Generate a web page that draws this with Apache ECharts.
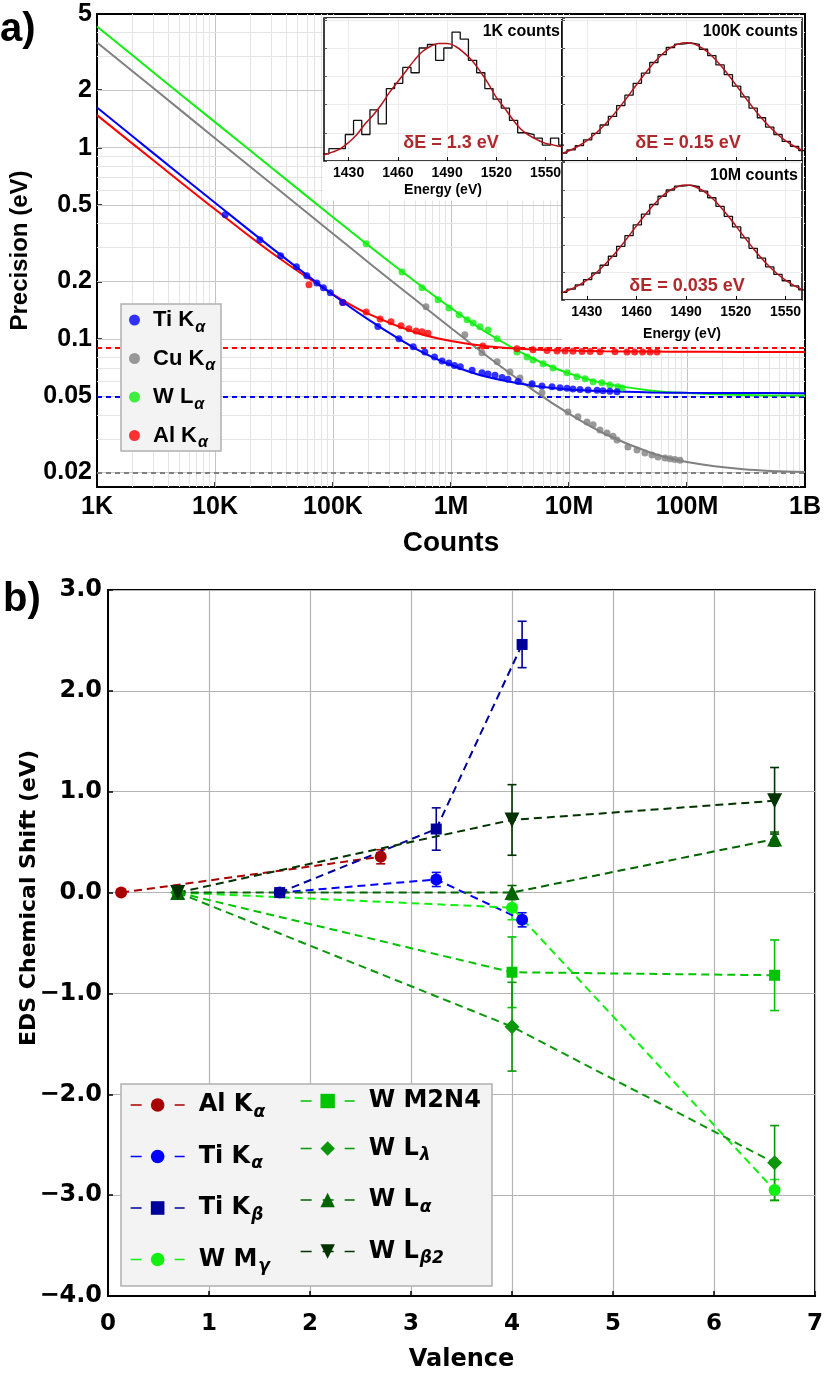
<!DOCTYPE html>
<html><head><meta charset="utf-8">
<script src="https://cdn.jsdelivr.net/npm/echarts@6/dist/echarts.min.js"></script>
<style>html,body{margin:0;padding:0;background:#fff}#c{width:830px;height:1377px}</style>
</head><body><div id="c"></div>
<script>
// ================= Panel a data =================
const countTicks = [1e3, 1e4, 1e5, 1e6, 1e7, 1e8, 1e9];
const countTickLabels = ['1K', '10K', '100K', '1M', '10M', '100M', '1B'];
const precTicks = [0.02, 0.05, 0.1, 0.2, 0.5, 1, 2, 5];
const precTickLabels = ['0.02', '0.05', '0.1', '0.2', '0.5', '1', '2', '5'];

const fitCounts = [1e3, 3e3, 1e4, 3e4, 1e5, 2e5, 5e5, 1e6, 2e6, 5e6, 1e7, 2e7, 5e7, 1e8, 3e8, 1e9];
const tiFit = [1.62, 0.936, 0.515, 0.300, 0.170, 0.126, 0.089, 0.073, 0.0633, 0.0568, 0.0544, 0.0533, 0.0525, 0.0522, 0.0521, 0.052];
const alFit = [1.48, 0.859, 0.476, 0.283, 0.171, 0.135, 0.108, 0.0974, 0.0916, 0.088, 0.0868, 0.0861, 0.0858, 0.0856, 0.0855, 0.0855];
const wFit  = [4.30, 2.48, 1.36, 0.787, 0.433, 0.308, 0.199, 0.145, 0.108, 0.0787, 0.066, 0.0585, 0.0536, 0.0521, 0.0509, 0.0505];
const cuFit = [3.55, 2.05, 1.12, 0.647, 0.355, 0.251, 0.160, 0.114, 0.0816, 0.0538, 0.0406, 0.0319, 0.0253, 0.0227, 0.0208, 0.0201];
const tiLimit = 0.052, alLimit = 0.0855, wLimit = 0.0503, cuLimit = 0.0198;

const tiDotsN = [12.2e3, 24e3, 36e3, 49e3, 60e3, 73e3, 83e3, 95e3, 121e3, 240e3, 362e3, 478e3, 600e3, 725e3, 840e3, 960e3, 1.07e6, 1.2e6, 1.51e6, 1.83e6, 2.06e6, 2.36e6, 2.71e6, 3.04e6, 3.7e6, 4.86e6, 5.9e6, 7.18e6, 8.39e6, 9.62e6, 10.8e6, 12.4e6, 14.5e6, 17.3e6, 19.4e6, 22.2e6, 25.5e6];
const tiDotsP = [0.446, 0.33, 0.272, 0.238, 0.214, 0.196, 0.185, 0.174, 0.155, 0.116, 0.100, 0.091, 0.0855, 0.0805, 0.0767, 0.0748, 0.0725, 0.0715, 0.0685, 0.0665, 0.0655, 0.0645, 0.0628, 0.0615, 0.0598, 0.0582, 0.0567, 0.0561, 0.0555, 0.0551, 0.0547, 0.0544, 0.0541, 0.0538, 0.0535, 0.0532, 0.0529];
const alDotsN = [62.6e3, 121e3, 191e3, 251e3, 310e3, 377e3, 440e3, 506e3, 568e3, 638e3, 1.86e6, 3.62e6, 4.95e6, 6.51e6, 7.91e6, 9.25e6, 10.8e6, 12.9e6, 15.1e6, 18.3e6, 24.5e6, 31e6, 36e6, 42e6, 48.6e6, 55.7e6];
const alDotsP = [0.192, 0.155, 0.138, 0.127, 0.123, 0.117, 0.113, 0.110, 0.109, 0.107, 0.0919, 0.0887, 0.0878, 0.0868, 0.0865, 0.0864, 0.0862, 0.086, 0.086, 0.0857, 0.0856, 0.0855, 0.0855, 0.0855, 0.0855, 0.0855];
const wDotsN = [191e3, 385e3, 568e3, 777e3, 962e3, 1.17e6, 1.37e6, 1.54e6, 1.76e6, 2.06e6, 2.46e6, 3.62e6, 4.41e6, 4.95e6, 6.03e6, 7.32e6, 9.62e6, 11.7e6, 13.7e6, 16e6, 19e6, 22.2e6, 26e6, 28.2e6];
const wDotsP = [0.314, 0.224, 0.185, 0.160, 0.145, 0.1336, 0.126, 0.121, 0.1156, 0.1114, 0.100, 0.0855, 0.0805, 0.0776, 0.074, 0.0705, 0.0664, 0.0633, 0.0618, 0.0596, 0.0589, 0.0574, 0.0561, 0.0554];
const cuDotsN = [614e3, 1.31e6, 1.83e6, 2.46e6, 3.16e6, 3.84e6, 4.86e6, 5.9e6, 9.8e6, 11.9e6, 14.2e6, 16e6, 18.3e6, 21e6, 23.6e6, 25.5e6, 31.6e6, 37.7e6, 44e6, 50.5e6, 56.8e6, 65.1e6, 71.8e6, 79e6, 87.3e6];
const cuDotsP = [0.147, 0.105, 0.0845, 0.0759, 0.0672, 0.0625, 0.0574, 0.0522, 0.0415, 0.0391, 0.0368, 0.0355, 0.0334, 0.0322, 0.031, 0.0296, 0.0272, 0.0262, 0.0253, 0.0247, 0.0241, 0.0238, 0.0236, 0.0234, 0.0232];

const aNames = ['Ti Kα', 'Cu Kα', 'W Lα', 'Al Kα'];
const aBase = ['Ti K', 'Cu K', 'W L', 'Al K'];
const aSub = ['α', 'α', 'α', 'α'];

// ---- insets (spectra) ----
const energyTicks = [1430, 1460, 1490, 1520, 1550];
const binLeft = [1413, 1418, 1423, 1428, 1433, 1438, 1443, 1448, 1453, 1458, 1463, 1468, 1473, 1478, 1483, 1488, 1493, 1498, 1503, 1508, 1513, 1518, 1523, 1528, 1533, 1538, 1543, 1548, 1553, 1558];
const hist1K = [4, 7, 7, 15, 23, 15, 29, 21, 41, 44, 53, 50, 64, 66, 57, 64, 73, 69, 57, 50, 41, 35, 30, 23, 16, 15, 13, 9, 13, 9];
const hist100K = [450, 630, 870, 1200, 1560, 2040, 2530, 3140, 3730, 4400, 4980, 5580, 6030, 6430, 6620, 6690, 6610, 6330, 5970, 5440, 4890, 4240, 3630, 2990, 2450, 1920, 1500, 1110, 830, 590];
const hist10M = [44600, 63300, 88100, 118800, 157200, 202400, 254900, 312700, 374800, 438000, 500000, 556500, 604700, 641100, 663500, 670000, 660000, 635000, 595700, 545600, 487700, 425600, 361900, 300900, 243700, 192900, 148800, 112300, 82400, 59300];
const fitE = [1415, 1420, 1425, 1430, 1435, 1440, 1445, 1450, 1455, 1460, 1465, 1470, 1475, 1480, 1485, 1490, 1495, 1500, 1505, 1510, 1515, 1520, 1525, 1530, 1535, 1540, 1545, 1550, 1555, 1560];
const fit1K = [3.5, 5, 7, 10.5, 15, 21, 26, 32, 39, 45, 51, 57, 62, 65, 66.5, 66.5, 65, 61.5, 57, 51, 44, 36, 30, 23.5, 18, 14.5, 12, 10, 9, 8];
const fit100K = [430, 612, 851, 1155, 1530, 1977, 2493, 3068, 3684, 4318, 4938, 5512, 6003, 6381, 6619, 6700, 6619, 6381, 6003, 5512, 4938, 4318, 3684, 3068, 2493, 1977, 1530, 1155, 851, 612];
const fit10M = [43000, 61200, 85100, 115500, 153000, 197700, 249300, 306800, 368400, 431800, 493800, 551200, 600300, 638100, 661900, 670000, 661900, 638100, 600300, 551200, 493800, 431800, 368400, 306800, 249300, 197700, 153000, 115500, 85100, 61200];

// ================= Panel b data =================
const alVal = [0.13, 2.70], alShift = [0, 0.355], alErr = [0, 0.07];
const tiVal = [1.70, 3.25, 4.10];
const tiKaShift = [0, 0.13, -0.27], tiKaErr = [0, 0.07, 0.07];
const tiKbShift = [0, 0.63, 2.46], tiKbErr = [0, 0.21, 0.23];
const wVal = [0.69, 4.00, 6.60];
const wMgShift = [0, -0.15, -2.95], wMgErr = [0, 0.12, 0.105];
const wM2Shift = [0, -0.79, -0.82], wM2Err = [0, 0.35, 0.35];
const wLlShift = [0, -1.33, -2.68], wLlErr = [0, 0.44, 0.37];
const wLaShift = [0, 0.0, 0.53], wLaErr = [0, 0.07, 0.07];
const wLb2Shift = [0, 0.72, 0.91], wLb2Err = [0, 0.35, 0.33];

const bNames = ['b-Al', 'b-TiKa', 'b-TiKb', 'b-WMg', 'b-WM2N4', 'b-WLl', 'b-WLa', 'b-WLb2'];
const bBase = ['Al K', 'Ti K', 'Ti K', 'W M', 'W M2N4', 'W L', 'W L', 'W L'];
const bSub = ['α', 'α', 'β', 'γ', '', 'λ', 'α', 'β2'];

// ================= build =================
const FA = '"Liberation Sans", Arial, sans-serif';
const FB = '"DejaVu Sans", sans-serif';
const zip = (xs, ys) => xs.map((x, i) => [x, ys[i]]);

// log-grid decoration lines for panel a
const gridX = [], gridY = [];
for (let n = 3; n <= 8; n++) for (let k = 1; k <= 9; k++) { const v = k * Math.pow(10, n); if (v > 1e3 && v < 1e9) gridX.push({ v, major: k === 1 }); }
for (let n = -2; n <= 0; n++) for (let k = 1; k <= 9; k++) { const v = +(k * Math.pow(10, n)).toPrecision(3); if (v > 0.0168 && v < 5) gridY.push({ v, major: precTicks.indexOf(v) >= 0 }); }

const gridMark = {
  symbol: ['none', 'none'], silent: true, label: { show: false }, animation: false, z: 1,
  data: [
    ...gridX.map(g => ({ xAxis: g.v, lineStyle: { color: g.major ? '#c4c4c4' : '#e4e4e4', width: 1, type: 'solid' } })),
    ...gridY.map(g => ({ yAxis: g.v, lineStyle: { color: g.major ? '#c8c8c8' : '#e4e4e4', width: 1, type: 'solid' } }))
  ]
};

function fitSeries(name, vals, color, limit) {
  return {
    type: 'line', name, xAxisIndex: 0, yAxisIndex: 0, data: zip(fitCounts, vals), smooth: 0.35,
    showSymbol: false, symbol: 'none', lineStyle: { color, width: 2 }, z: 2,
    markLine: { z: 2, symbol: ['none', 'none'], silent: true, label: { show: false }, data: [{ yAxis: limit }], lineStyle: { color, width: 2, type: [5, 4] } }
  };
}
function dotSeries(name, ns, ps, color) {
  return { type: 'scatter', name, xAxisIndex: 0, yAxisIndex: 0, data: zip(ns, ps), symbol: 'circle', symbolSize: 7, itemStyle: { color }, z: 2 };
}
function histData(vals) {
  const d = binLeft.map((x, i) => [x, vals[i]]);
  d.push([binLeft[binLeft.length - 1] + 5, vals[vals.length - 1]]);
  return d;
}
function insetSeries(idx, hist, fit) {
  return [
    { type: 'line', xAxisIndex: idx, yAxisIndex: idx, data: histData(hist), step: 'end', symbol: 'none', showSymbol: false,
      lineStyle: { color: '#111', width: 1.3 }, z: 7,
      markLine: { z: 6, symbol: ['none', 'none'], silent: true, label: { show: false }, data: energyTicks.map(e => ({ xAxis: e })), lineStyle: { color: '#ececec', width: 1, type: 'solid' } } },
    { type: 'line', xAxisIndex: idx, yAxisIndex: idx, data: zip(fitE, fit), smooth: 0.4, symbol: 'none', showSymbol: false,
      lineStyle: { color: '#b3121b', width: 1.5 }, z: 8 }
  ];
}
function insetX(idx, showLabels, nameGap) {
  return {
    type: 'value', gridIndex: idx, min: 1415, max: 1560, z: 6,
    axisLine: { show: false }, splitLine: { show: false },
    axisTick: { show: true, inside: true, length: 4, customValues: energyTicks, lineStyle: { color: '#000', width: 1 } },
    axisLabel: { show: showLabels, customValues: energyTicks, margin: 5, fontFamily: FA, fontWeight: 'bold', fontSize: 14, color: '#000',
      formatter: v => String(Math.round(v)) },
    name: showLabels ? 'Energy (eV)' : '', nameLocation: 'middle', nameGap,
    nameTextStyle: { fontFamily: FA, fontWeight: 'bold', fontSize: 14, color: '#000' }
  };
}
function insetY(idx, max, interval) {
  return {
    type: 'value', gridIndex: idx, min: 0, max, interval, z: 6,
    axisLine: { show: false, onZero: false }, axisLabel: { show: false },
    axisTick: { show: true, inside: true, length: 3, lineStyle: { color: '#555' } },
    splitLine: { show: true, lineStyle: { color: '#ececec', width: 1 } }
  };
}
// panel b series
function bLine(name, xs, ys, color, symbol, size, rotate) {
  return {
    type: 'line', name, xAxisIndex: 4, yAxisIndex: 4, data: zip(xs, ys), symbol, symbolSize: size, symbolRotate: rotate || 0,
    showSymbol: true, lineStyle: { color, width: 2, type: [8, 5] }, itemStyle: { color }, z: 4
  };
}
function bErr(xs, ys, es, color) {
  const data = xs.map((x, i) => [x, ys[i], es[i]]).filter(d => d[2] > 0);
  return {
    type: 'custom', xAxisIndex: 4, yAxisIndex: 4, coordinateSystem: 'cartesian2d', data, z: 3, silent: true,
    renderItem: (params, api) => {
      const x = api.value(0), y = api.value(1), e = api.value(2);
      const p1 = api.coord([x, y + e]), p2 = api.coord([x, y - e]);
      const w = 4.5, st = { stroke: color, lineWidth: 1.6 };
      return { type: 'group', children: [
        { type: 'line', shape: { x1: p1[0], y1: p1[1], x2: p2[0], y2: p2[1] }, style: st },
        { type: 'line', shape: { x1: p1[0] - w, y1: p1[1], x2: p1[0] + w, y2: p1[1] }, style: st },
        { type: 'line', shape: { x1: p2[0] - w, y1: p2[1], x2: p2[0] + w, y2: p2[1] }, style: st }
      ] };
    }
  };
}
const cAl = '#a80000', cTiKa = '#0000ff', cTiKb = '#00009a', cWMg = '#11f011', cWM2 = '#00c400', cWLl = '#0b960b', cWLa = '#006400', cWLb2 = '#003300';

const aRich = {
  n: { fontFamily: FA, fontWeight: 'bold', fontSize: 22, lineHeight: 24, color: '#000', padding: [0, 0, 0, 8] },
  s: { fontFamily: FA, fontWeight: 'bold', fontStyle: 'italic', fontSize: 16, lineHeight: 16, color: '#000', padding: [15, 0, 0, 1] }
};
const bRich = {
  n: { fontFamily: FB, fontWeight: 'bold', fontSize: 24, lineHeight: 28, color: '#000', padding: [0, 0, 0, 9] },
  s: { fontFamily: FB, fontWeight: 'bold', fontStyle: 'italic', fontSize: 17, lineHeight: 18, color: '#000', padding: [15, 0, 0, 1] }
};
const aFmt = name => { const i = aNames.indexOf(name); return '{n|' + aBase[i] + '}{s|' + aSub[i] + '}'; };
const bFmt = name => { const i = bNames.indexOf(name); return bSub[i] ? '{n|' + bBase[i] + '}{s|' + bSub[i] + '}' : '{n|' + bBase[i] + '}'; };

const txt = (text, x, y, font, fill, align, extra) => Object.assign({ type: 'text', x, y, z: 20, silent: true,
  style: { text, font, fill, align: align || 'left', verticalAlign: 'middle' } }, extra || {});

const option = {
  animation: false,
  backgroundColor: '#fff',
  grid: [
    { left: 97, top: 14, width: 708, height: 473, show: true, borderColor: '#000', borderWidth: 2, backgroundColor: 'transparent', z: 0 },
    { left: 324, top: 18, width: 238, height: 143, show: true, borderColor: '#000', borderWidth: 1.5, backgroundColor: '#fff', z: 6 },
    { left: 562, top: 18, width: 240, height: 143, show: true, borderColor: '#000', borderWidth: 1.5, backgroundColor: '#fff', z: 6 },
    { left: 562, top: 161, width: 240, height: 139, show: true, borderColor: '#000', borderWidth: 1.5, backgroundColor: '#fff', z: 6 },
    { left: 108, top: 590, width: 707, height: 707, show: true, borderColor: '#000', borderWidth: 2, backgroundColor: 'transparent', z: 0 }
  ],
  xAxis: [
    { type: 'log', gridIndex: 0, min: 1e3, max: 1e9, logBase: 10,
      axisLine: { show: true, onZero: false, lineStyle: { color: '#000', width: 2 } }, splitLine: { show: false },
      axisTick: { show: true, inside: true, length: 5, customValues: countTicks, lineStyle: { color: '#000', width: 1.5 } },
      axisLabel: { customValues: countTicks, margin: 8, fontFamily: FA, fontWeight: 'bold', fontSize: 25, color: '#000',
        formatter: v => { const i = countTicks.findIndex(t => Math.abs(t - v) / t < 1e-6); return i >= 0 ? countTickLabels[i] : ''; } },
      name: 'Counts', nameLocation: 'middle', nameGap: 42, nameTextStyle: { fontFamily: FA, fontWeight: 'bold', fontSize: 28, color: '#000' } },
    insetX(1, true, 22),
    insetX(2, false, 22),
    insetX(3, true, 27),
    { type: 'value', gridIndex: 4, min: 0, max: 7, interval: 1,
      axisLine: { show: true, onZero: false, lineStyle: { color: '#000', width: 2 } },
      splitLine: { show: true, lineStyle: { color: '#b4b4b4', width: 1.2 } },
      axisTick: { show: true, inside: true, length: 5, lineStyle: { color: '#000', width: 1.5 } },
      axisLabel: { margin: 17, fontFamily: FB, fontWeight: 'bold', fontSize: 23, color: '#000' },
      name: 'Valence', nameLocation: 'middle', nameGap: 52, nameTextStyle: { fontFamily: FB, fontWeight: 'bold', fontSize: 24, color: '#000' } }
  ],
  yAxis: [
    { type: 'log', gridIndex: 0, min: 0.0168, max: 5, logBase: 10,
      axisLine: { show: true, onZero: false, lineStyle: { color: '#000', width: 2 } }, splitLine: { show: false },
      axisTick: { show: true, inside: true, length: 5, customValues: precTicks, lineStyle: { color: '#000', width: 1.5 } },
      axisLabel: { customValues: precTicks, margin: 5, fontFamily: FA, fontWeight: 'bold', fontSize: 25, color: '#000',
        formatter: v => { const i = precTicks.findIndex(t => Math.abs(t - v) / t < 1e-6); return i >= 0 ? precTickLabels[i] : ''; } },
      name: 'Precision (eV)', nameLocation: 'middle', nameGap: 63, nameTextStyle: { fontFamily: FA, fontWeight: 'bold', fontSize: 24, color: '#000' } },
    insetY(1, 81, 16),
    insetY(2, 8100, 1600),
    insetY(3, 810000, 160000),
    { type: 'value', gridIndex: 4, min: -4, max: 3, interval: 1,
      axisLine: { show: true, onZero: false, lineStyle: { color: '#000', width: 2 } },
      splitLine: { show: true, lineStyle: { color: '#b4b4b4', width: 1.2 } },
      axisTick: { show: true, inside: true, length: 5, lineStyle: { color: '#000', width: 1.5 } },
      axisLabel: { margin: 6, fontFamily: FB, fontWeight: 'bold', fontSize: 24, color: '#000',
        formatter: v => (v < 0 ? '\u2212' : '') + Math.abs(v).toFixed(1) } }
  ],
  legend: [
    { data: aNames, orient: 'vertical', left: 129, top: 304.5, padding: 0, itemGap: 7.5, itemWidth: 11, itemHeight: 11,
      icon: 'circle', formatter: aFmt, textStyle: { rich: aRich }, selectedMode: false, z: 4 },
    { data: bNames.slice(0, 4), orient: 'vertical', left: 130, top: 1089, padding: 0, itemGap: 19.5, itemWidth: 54, itemHeight: 17,
      formatter: bFmt, textStyle: { rich: bRich }, lineStyle: { width: 1.3, type: [11, 11] }, selectedMode: false, z: 4 },
    { data: bNames.slice(4), orient: 'vertical', left: 300, top: 1089, padding: 0, itemGap: 19.5, itemWidth: 54, itemHeight: 18,
      formatter: bFmt, textStyle: { rich: bRich }, lineStyle: { width: 1.3, type: [11, 11] }, selectedMode: false, z: 4 }
  ],
  graphic: [
    { type: 'rect', shape: { x: 323, y: 15.5, width: 239, height: 185 }, style: { fill: '#fff' }, z: 5, silent: true },
    { type: 'rect', shape: { x: 562, y: 15.5, width: 242, height: 331 }, style: { fill: '#fff' }, z: 5, silent: true },
    { type: 'rect', shape: { x: 121, y: 304, width: 100, height: 147 }, style: { fill: '#f3f3f3', stroke: '#b0b0b0', lineWidth: 1.5 }, z: 3, silent: true },
    { type: 'rect', shape: { x: 121, y: 1084, width: 371, height: 202 }, style: { fill: '#f3f3f3', stroke: '#b0b0b0', lineWidth: 1.5 }, z: 3, silent: true },
    txt('a)', 0, 30, 'bold 40px ' + FA, '#000'),
    txt('b)', 3, 600, 'bold 40px ' + FA, '#000'),
    txt('1K counts', 560, 32, 'bold 16px ' + FA, '#000', 'right'),
    txt('100K counts', 798, 32, 'bold 16px ' + FA, '#000', 'right'),
    txt('10M counts', 798, 176, 'bold 16px ' + FA, '#000', 'right'),
    txt('δE = 1.3 eV', 451, 143, 'bold 18px ' + FA, '#b0282c', 'center'),
    txt('δE = 0.15 eV', 688, 143, 'bold 18px ' + FA, '#b0282c', 'center'),
    txt('δE = 0.035 eV', 687, 286, 'bold 18px ' + FA, '#b0282c', 'center'),
    txt('EDS Chemical Shift (eV)', 29, 898, 'bold 22px ' + FB, '#000', 'center', { rotation: Math.PI / 2 })
  ],
  series: [
    { type: 'line', name: 'grid', xAxisIndex: 0, yAxisIndex: 0, data: [[1e4, 1]], symbol: 'none', showSymbol: false,
      lineStyle: { width: 0, opacity: 0 }, z: 1, silent: true, markLine: gridMark },
    fitSeries('Cu fit', cuFit, '#808080', cuLimit),
    fitSeries('W fit', wFit, '#11ee11', wLimit),
    fitSeries('Al fit', alFit, '#ff0000', alLimit),
    fitSeries('Ti fit', tiFit, '#0000ff', tiLimit),
    dotSeries('Cu Kα', cuDotsN, cuDotsP, '#808080'),
    dotSeries('W Lα', wDotsN, wDotsP, '#11ee11'),
    dotSeries('Al Kα', alDotsN, alDotsP, '#ff0000'),
    dotSeries('Ti Kα', tiDotsN, tiDotsP, '#0000ff'),
    ...insetSeries(1, hist1K, fit1K),
    ...insetSeries(2, hist100K, fit100K),
    ...insetSeries(3, hist10M, fit10M),
    bErr(alVal, alShift, alErr, cAl),
    bErr(tiVal, tiKaShift, tiKaErr, cTiKa),
    bErr(tiVal, tiKbShift, tiKbErr, cTiKb),
    bErr(wVal, wMgShift, wMgErr, cWMg),
    bErr(wVal, wM2Shift, wM2Err, cWM2),
    bErr(wVal, wLlShift, wLlErr, cWLl),
    bErr(wVal, wLaShift, wLaErr, cWLa),
    bErr(wVal, wLb2Shift, wLb2Err, cWLb2),
    bLine(bNames[0], alVal, alShift, cAl, 'circle', 12),
    bLine(bNames[1], tiVal, tiKaShift, cTiKa, 'circle', 12),
    bLine(bNames[2], tiVal, tiKbShift, cTiKb, 'rect', 11),
    bLine(bNames[3], wVal, wMgShift, cWMg, 'circle', 12),
    bLine(bNames[4], wVal, wM2Shift, cWM2, 'rect', 11),
    bLine(bNames[5], wVal, wLlShift, cWLl, 'diamond', 15),
    bLine(bNames[6], wVal, wLaShift, cWLa, 'triangle', 15),
    bLine(bNames[7], wVal, wLb2Shift, cWLb2, 'triangle', 15, 180)
  ]
};
const chart = echarts.init(document.getElementById('c'), null, { renderer: 'canvas', width: 830, height: 1377 });
chart.setOption(option);
</script></body></html>
